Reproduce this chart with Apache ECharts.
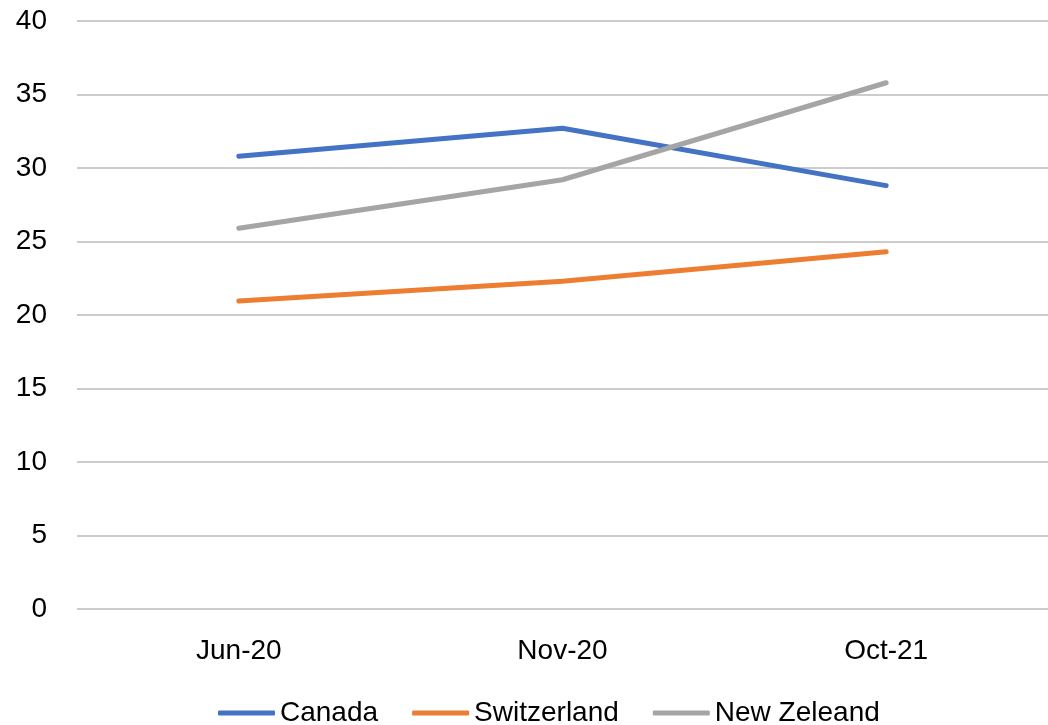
<!DOCTYPE html>
<html>
<head>
<meta charset="utf-8">
<script src="https://cdn.jsdelivr.net/npm/echarts@6/dist/echarts.min.js"></script>
<style>
  html, body { margin: 0; padding: 0; background: #fff; }
  #t1 { width: 1048px; height: 725px; }
</style>
</head>
<body>
<div id="t1"></div>
<script>
var months = ['Jun-20', 'Nov-20', 'Oct-21'];
var canada = [30.8, 32.7, 28.8];
var switzerland = [20.95, 22.3, 24.3];
var newZeleand = [25.9, 29.2, 35.8];

var font = "'Liberation Sans', sans-serif";

function lineSeries(name, data, color) {
    return {
        name: name,
        type: 'line',
        data: data,
        symbol: 'none',
        lineStyle: { width: 5, color: color, cap: 'round', join: 'round' },
        itemStyle: { color: color }
    };
}

option = {
    animation: false,
    textStyle: { fontFamily: font },
    legend: {
        bottom: -7,
        left: 213,
        itemWidth: 57,
        itemHeight: 5,
        itemGap: 34,
        icon: 'roundRect',
        textStyle: { fontSize: 28, color: '#000', fontFamily: font },
        data: ['Canada', 'Switzerland', 'New Zeleand']
    },
    grid: {
        left: 77,
        right: -13,
        top: 21,
        bottom: 116
    },
    xAxis: {
        type: 'category',
        data: months,
        axisLine: { show: false },
        axisTick: { show: false },
        axisLabel: { fontSize: 28, color: '#000', margin: 28, fontFamily: font }
    },
    yAxis: {
        type: 'value',
        min: 0,
        max: 40,
        interval: 5,
        axisLine: { show: false },
        axisTick: { show: false },
        axisLabel: { fontSize: 28, color: '#000', margin: 30, fontFamily: font },
        splitLine: { lineStyle: { color: '#cccccc', width: 2 } }
    },
    series: [
        lineSeries('Canada', canada, '#4472C4'),
        lineSeries('Switzerland', switzerland, '#ED7D31'),
        lineSeries('New Zeleand', newZeleand, '#A5A5A5')
    ]
};
echarts.init(document.getElementById('t1')).setOption(option);
</script>
</body>
</html>
